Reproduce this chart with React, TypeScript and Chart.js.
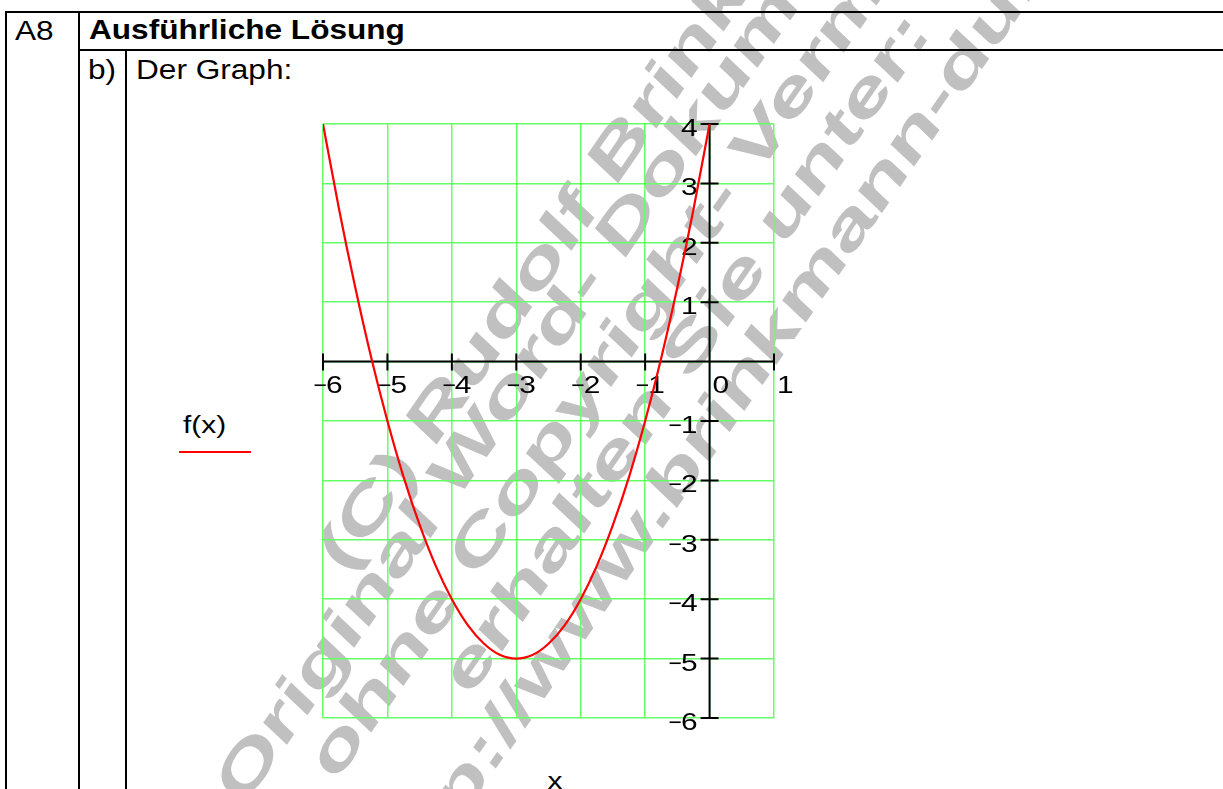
import React, { useEffect, useRef } from "react";
import { Chart, registerables } from "chart.js";

Chart.register(...registerables);

// ---- data ----
const xValues = [-6, -5.75, -5.5, -5.25, -5, -4.75, -4.5, -4.25, -4, -3.75, -3.5, -3.25, -3, -2.75, -2.5, -2.25, -2, -1.75, -1.5, -1.25, -1, -0.75, -0.5, -0.25, 0];
const fValues = [4, 2.56, 1.25, 0.06, -1, -1.94, -2.75, -3.44, -4, -4.44, -4.75, -4.94, -5, -4.94, -4.75, -4.44, -4, -3.44, -2.75, -1.94, -1, 0.06, 1.25, 2.56, 4];

const xTickValues = [-6, -5, -4, -3, -2, -1, 0, 1];
const xTickLabels = ["−6", "−5", "−4", "−3", "−2", "−1", "0", "1"];
const yTickValues = [4, 3, 2, 1, 0, -1, -2, -3, -4, -5, -6];
const yTickLabels = ["4", "3", "2", "1", "", "−1", "−2", "−3", "−4", "−5", "−6"];

const seriesLabel = "f(x)";
const axisTitle = "x";
const taskId = "A8";
const heading = "Ausführliche Lösung";
const partId = "b)";
const partText = "Der Graph:";
const watermarkLines = [
  "(C) Rudolf Brinkmann",
  "Original Word- Dokument",
  "ohne Copyright- Vermerk",
  "erhalten Sie unter:",
  "http://www.brinkmann-du.de",
];

// ---- styling / layout ----
const FONT = '"Liberation Sans", Arial, Helvetica, sans-serif';
const CHART_FONT_PX = 23;
const CHART_SX = 1.3;
const HEAD_SX = 1.17;
const GRID_COLOR = "#66ff66";
const WM_FONT = 54;
const WM_TRANSFORM = "scaleX(1.18) rotate(-59.5deg) scaleX(1.63)";
const wmAnchors: [number, number][] = [
  [348, 572],
  [245, 805],
  [338, 780],
  [472, 695],
  [394, 915],
];

function drawLabel(ctx: CanvasRenderingContext2D, label: string, ax: number, base: number, mode: "left" | "right") {
  const neg = label.startsWith("−");
  const digits = neg ? label.slice(1) : label;
  const dW = ctx.measureText(digits).width * CHART_SX;
  const digitStart = mode === "left" ? ax : ax - dW;
  ctx.save();
  ctx.translate(digitStart, base);
  ctx.scale(CHART_SX, 1);
  ctx.textAlign = "left";
  ctx.fillText(digits, 0, 0);
  ctx.restore();
  if (neg) {
    ctx.save();
    ctx.textAlign = "right";
    ctx.fillText("−", digitStart + 1, base);
    ctx.restore();
  }
}

const axesPlugin = {
  id: "mathcadAxes",
  beforeDatasetsDraw(chart: any) {
    const { ctx } = chart;
    const x = chart.scales.x;
    const y = chart.scales.y;
    const x0 = x.getPixelForValue(0);
    const y0 = y.getPixelForValue(0);
    ctx.save();
    ctx.strokeStyle = "#000";
    ctx.lineWidth = 2;
    ctx.beginPath();
    ctx.moveTo(x.left, y0);
    ctx.lineTo(x.right, y0);
    ctx.moveTo(x0, y.top);
    ctx.lineTo(x0, y.bottom);
    xTickValues.forEach((v) => {
      const px = x.getPixelForValue(v);
      ctx.moveTo(px, y0 - 8);
      ctx.lineTo(px, y0 + 9);
    });
    yTickValues.forEach((v) => {
      const py = y.getPixelForValue(v);
      ctx.moveTo(x0 - 9, py);
      ctx.lineTo(x0 + 9, py);
    });
    ctx.stroke();
    ctx.fillStyle = "#000";
    ctx.font = `${CHART_FONT_PX}px ${FONT}`;
    ctx.textBaseline = "alphabetic";
    xTickValues.forEach((v, i) => {
      const px = x.getPixelForValue(v);
      drawLabel(ctx, xTickLabels[i], px + 3, y0 + 31, "left");
    });
    yTickValues.forEach((v, i) => {
      if (!yTickLabels[i]) return;
      const py = y.getPixelForValue(v);
      drawLabel(ctx, yTickLabels[i], x0 - 12, py + 12, "right");
    });
    ctx.restore();
  },
};

function Txt(props: { text: string; left: number; base: number; size: number; sx: number; bold?: boolean; center?: boolean }) {
  const { text, left, base, size, sx, bold, center } = props;
  return (
    <span
      style={{
        position: "absolute",
        left,
        top: base - 0.8465 * size,
        fontFamily: FONT,
        fontSize: size,
        lineHeight: `${size}px`,
        fontWeight: bold ? "bold" : "normal",
        whiteSpace: "nowrap",
        color: "#000",
        transform: center ? `translateX(-50%) scaleX(${sx})` : `scaleX(${sx})`,
        transformOrigin: center ? "50% 50%" : "0 50%",
      }}
    >
      {text}
    </span>
  );
}

function Line(props: { l: number; t: number; w: number; h: number; c?: string }) {
  return <div style={{ position: "absolute", left: props.l, top: props.t, width: props.w, height: props.h, background: props.c || "#000" }} />;
}

export default function App() {
  const canvasRef = useRef<HTMLCanvasElement | null>(null);

  useEffect(() => {
    if (!canvasRef.current) return;
    const chart = new Chart(canvasRef.current, {
      type: "line",
      data: {
        datasets: [
          {
            label: seriesLabel,
            data: xValues.map((xv, i) => ({ x: xv, y: fValues[i] })),
            borderColor: "#ff0000",
            borderWidth: 2.2,
            pointRadius: 0,
            fill: false,
            cubicInterpolationMode: "monotone",
          },
        ],
      },
      options: {
        responsive: false,
        animation: false,
        layout: { padding: { left: 323, right: 449, top: 124, bottom: 71 } },
        plugins: { legend: { display: false }, tooltip: { enabled: false } },
        scales: {
          x: {
            type: "linear",
            min: -6,
            max: 1,
            ticks: { display: false, stepSize: 1 },
            grid: { color: GRID_COLOR, lineWidth: 1.5, drawTicks: false },
            border: { display: false },
          },
          y: {
            type: "linear",
            min: -6,
            max: 4,
            ticks: { display: false, stepSize: 1 },
            grid: { color: GRID_COLOR, lineWidth: 1.5, drawTicks: false },
            border: { display: false },
          },
        },
      },
      plugins: [axesPlugin],
    });
    return () => chart.destroy();
  }, []);

  return (
    <div style={{ position: "absolute", left: 0, top: 0, width: 1223, height: 789, overflow: "hidden", background: "#fff" }}>
      {watermarkLines.map((t, i) => (
        <div
          key={i}
          style={{
            position: "absolute",
            left: wmAnchors[i][0],
            top: wmAnchors[i][1],
            width: 0,
            height: 0,
            transform: WM_TRANSFORM,
          }}
        >
          <span
            style={{
              position: "absolute",
              left: 0,
              top: -0.8465 * WM_FONT,
              fontFamily: FONT,
              fontSize: WM_FONT,
              lineHeight: `${WM_FONT}px`,
              fontWeight: "bold",
              fontStyle: "italic",
              whiteSpace: "nowrap",
              color: "#c0c0c0",
            }}
          >
            {t}
          </span>
        </div>
      ))}

      <Line l={5} t={11} w={1218} h={2} />
      <Line l={5} t={11} w={2} h={778} />
      <Line l={78} t={11} w={2} h={778} />
      <Line l={78} t={49} w={1145} h={2} />
      <Line l={125} t={49} w={2} h={740} />

      <Txt text={taskId} left={15} base={41} size={27} sx={HEAD_SX} />
      <Txt text={heading} left={89} base={40} size={27} sx={HEAD_SX} bold />
      <Txt text={partId} left={88} base={80} size={27} sx={HEAD_SX} />
      <Txt text={partText} left={136} base={80} size={27} sx={HEAD_SX} />

      <Txt text={seriesLabel} left={183} base={433} size={CHART_FONT_PX} sx={CHART_SX} />
      <Line l={179} t={451} w={72} h={2} c="#ff0000" />
      <Txt text={axisTitle} left={555} base={789} size={CHART_FONT_PX} sx={CHART_SX} center />

      <canvas ref={canvasRef} width={1223} height={789} style={{ position: "absolute", left: 0, top: 0 }} />
    </div>
  );
}
